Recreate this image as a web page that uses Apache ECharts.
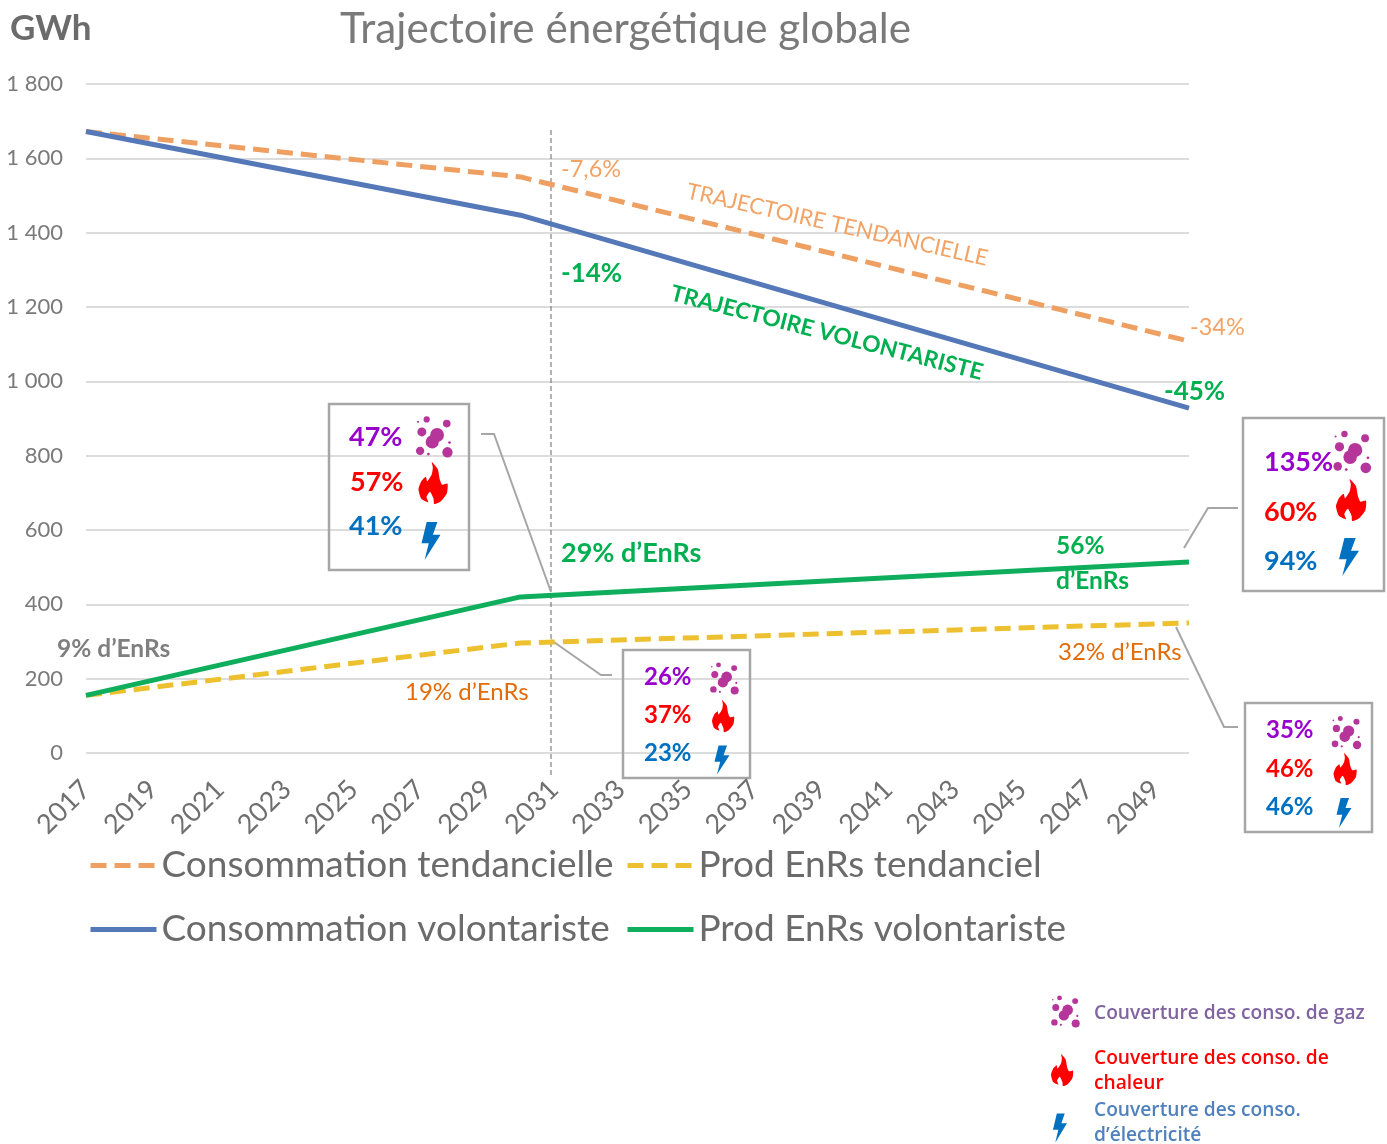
<!DOCTYPE html>
<html><head><meta charset="utf-8">
<script src="https://cdn.jsdelivr.net/npm/echarts@6/dist/echarts.min.js"></script>
<style>html,body{margin:0;padding:0;background:#fff}#c{width:1387px;height:1144px}</style>
</head><body><div id="c"></div>
<script>
const years = [];
for (let y = 2017; y <= 2050; y++) years.push(String(y));
const consoTend = [['2017',1672],['2030',1550],['2050',1108]];
const consoVol  = [['2017',1672],['2030',1447],['2050',928]];
const prodTend  = [['2017',155],['2030',296],['2050',350]];
const prodVol   = [['2017',155],['2030',420],['2050',514]];

const FONT = 'Lato';
const chart = echarts.init(document.getElementById('c'), null, {renderer:'canvas'});

function line(name, data, color, dashed, width){
  return {name, type:'line', data, symbol:'none', silent:true, animation:false, smooth:false,
    lineStyle:{color, width, type: dashed ? [16,8] : 'solid', cap:'butt'}, itemStyle:{color}};
}
const LEG = 37;
function legend(name, left, top){
  return {data:[name], left, top, itemWidth:66, itemHeight:14, padding:0, selectedMode:false,
    itemStyle:{opacity:0}, lineStyle:{width:5},
    textStyle:{fontFamily:FONT, fontSize:LEG, color:'#6b6b6b', padding:[0,0,0,0]}};
}
chart.setOption({
  animation:false,
  backgroundColor:'#fff',
  grid:{left:86, right:198, top:84, height:669, containLabel:false},
  xAxis:{type:'category', data:years, boundaryGap:false,
    axisLine:{show:false}, axisTick:{show:false},
    axisLabel:{interval:1, rotate:45, fontFamily:FONT, fontSize:27, color:'#6f6f6f', margin:32, hideOverlap:false}},
  yAxis:{type:'value', min:0, max:1800, interval:200,
    axisLine:{show:false}, axisTick:{show:false},
    splitLine:{lineStyle:{color:'#dcdcdc', width:2}},
    axisLabel:{fontFamily:FONT, fontSize:22, color:'#7a7a7a', margin:23,
      formatter:v => String(v).replace(/\B(?=(\d{3})+$)/g,' ')}},
  legend:[
    legend('Consommation tendancielle', 88, 847),
    legend('Prod EnRs tendanciel', 625, 847),
    legend('Consommation volontariste', 88, 911),
    legend('Prod EnRs volontariste', 625, 911)
  ],
  series:[
    line('Consommation tendancielle', consoTend, '#EE9F62', true, 5),
    line('Prod EnRs tendanciel', prodTend, '#EDC02F', true, 5),
    line('Consommation volontariste', consoVol, '#5578B8', false, 5),
    line('Prod EnRs volontariste', prodVol, '#0EAE5C', false, 5)
  ]
});

/* annotations */
const g = [];
function txt(s, x, cy, size, color, bold, extra){
  g.push(Object.assign({type:'text', x, y:cy+1, silent:true, style:{text:s, fontFamily:FONT, fontSize:size,
    fontWeight: bold ? 'bold':'normal', fill:color, textAlign:'left', textVerticalAlign:'middle'}}, extra||{}));
}
function box(x0,y0,x1,y1){
  g.push({type:'rect', silent:true, shape:{x:x0,y:y0,width:x1-x0,height:y1-y0},
    style:{fill:'none', stroke:'#A6A6A6', lineWidth:2.5}});
}
function poly(pts){
  g.push({type:'polyline', silent:true, shape:{points:pts}, style:{fill:'none', stroke:'#A6A6A6', lineWidth:2}});
}
const bubbles = [[-8,20,19],[6,0,20],[-38,-9,13],[-24,-45,9],[34,-33,11],[-43,46,12],[36,50,15],[-49,-38,3],[42,22,4],[-19,55,4]];
function gas(cx, cy, w){
  const s = w/104;
  bubbles.forEach(b => g.push({type:'circle', silent:true,
    shape:{cx:cx+b[0]*s, cy:cy-2+b[1]*s, r:b[2]*s},
    style:{fill:'#B5359B'}}));
}
const flamePts = [[38,0],[55,20],[61,50],[68,65],[83,62],[81,90],[63,113],[45,120],[43,105],[33,85],[23,100],[28,115],[8,105],[0,78],[8,55],[21,42],[25,55],[38,35],[41,15]];
function flame(cx, cy, w, h){
  g.push({type:'polygon', silent:true,
    shape:{points:flamePts.map(p => [cx-w/2+p[0]/83*w, cy-h/2+p[1]/120*h]), smooth:0.2},
    style:{fill:'#FF0000'}});
}
const boltPts = [[15,0],[46,0],[33,38],[55,38],[9,113],[21,63],[0,63]];
function bolt(cx, cy, w, h){
  g.push({type:'polygon', silent:true, shape:{points:boltPts.map(p => [cx-w/2+p[0]/55*w, cy-h/2+p[1]/113*h])},
    style:{fill:'#0070C0'}});
}

g.push({type:'line', silent:true, shape:{x1:551,y1:130,x2:551,y2:778},
  style:{stroke:'#666', lineWidth:1, lineDash:[5,3]}});

txt('GWh', 10, 28, 35, '#6b6b6b', true);
txt('Trajectoire énergétique globale', 340, 28, 42.2, '#7a7a7a', false);

box(329,404,469,570); box(623,650,750,778); box(1243,418,1384,591); box(1245,703,1372,832);
poly([[481,434],[494,434],[551,592]]);
poly([[551,640],[601,675],[612,675]]);
poly([[1184,548],[1208,508],[1238,508]]);
poly([[1176,627],[1224,727],[1238,727]]);

const PUR='#9900CC', RED='#FF0000', BLU='#0070C0', GRN='#00B050', ORA='#F2A365', DOR='#E36C0A';
txt('47%',349,436,27,PUR,true); txt('57%',350,481,27,RED,true); txt('41%',349,525,27,BLU,true);
gas(435,437,36); flame(433,483,29,42); bolt(431,541,19,38);
txt('26%',644,676,24,PUR,true); txt('37%',644,714,24,RED,true); txt('23%',644,752,24,BLU,true);
gas(725,679,28); flame(723,716,22,32); bolt(722,760,15,29);
txt('135%',1264,461,27,PUR,true); txt('60%',1264,511,27,RED,true); txt('94%',1264,560,27,BLU,true);
gas(1353,452,37); flame(1351,500,30,42); bolt(1349,557,20,38);
txt('35%',1266,729,24,PUR,true); txt('46%',1266,768,24,RED,true); txt('46%',1266,806,24,BLU,true);
gas(1347,733,29); flame(1345,769,23,32); bolt(1344,813,15,30);

txt('-7,6%',561,168,23.5,ORA,false);
txt('-14%',561,273,26,GRN,true);
txt('-34%',1190,326,23.5,ORA,false);
txt('-45%',1164,391,26,GRN,true);
txt('29% d’EnRs',561,552,27,GRN,true);
txt('56%',1056,545,24.5,GRN,true);
txt('d’EnRs',1056,580,24.5,GRN,true);
txt('9% d’EnRs',57,648,24.5,'#7f7f7f',true);
txt('19% d’EnRs',405,691,24,DOR,false);
txt('32% d’EnRs',1058,651,24,DOR,false);
txt('TRAJECTOIRE TENDANCIELLE',687,190,22.2,ORA,false,{rotation:-12.7*Math.PI/180});
txt('TRAJECTOIRE VOLONTARISTE',671,292,22.7,GRN,true,{rotation:-14.4*Math.PI/180});

gas(1066,1012,28); flame(1062,1070,22,32); bolt(1060,1128,14,29);
const KF = 19.2;
function key(s,x,cy,c){ g.push({type:'text',x,y:cy+2,silent:true,style:{text:s,fontFamily:'Open Sans',fontWeight:600,fontSize:KF,fill:c,textAlign:'left',textVerticalAlign:'middle'}}); }
key('Couverture des conso. de gaz',1094,1012,'#8064A2');
key('Couverture des conso. de',1094,1057,'#FF0000');
key('chaleur',1094,1082,'#FF0000');
key('Couverture des conso.',1094,1109,'#4F81BD');
key('d’électricité',1094,1134,'#4F81BD');

chart.setOption({graphic:{elements:g}});
</script></body></html>
